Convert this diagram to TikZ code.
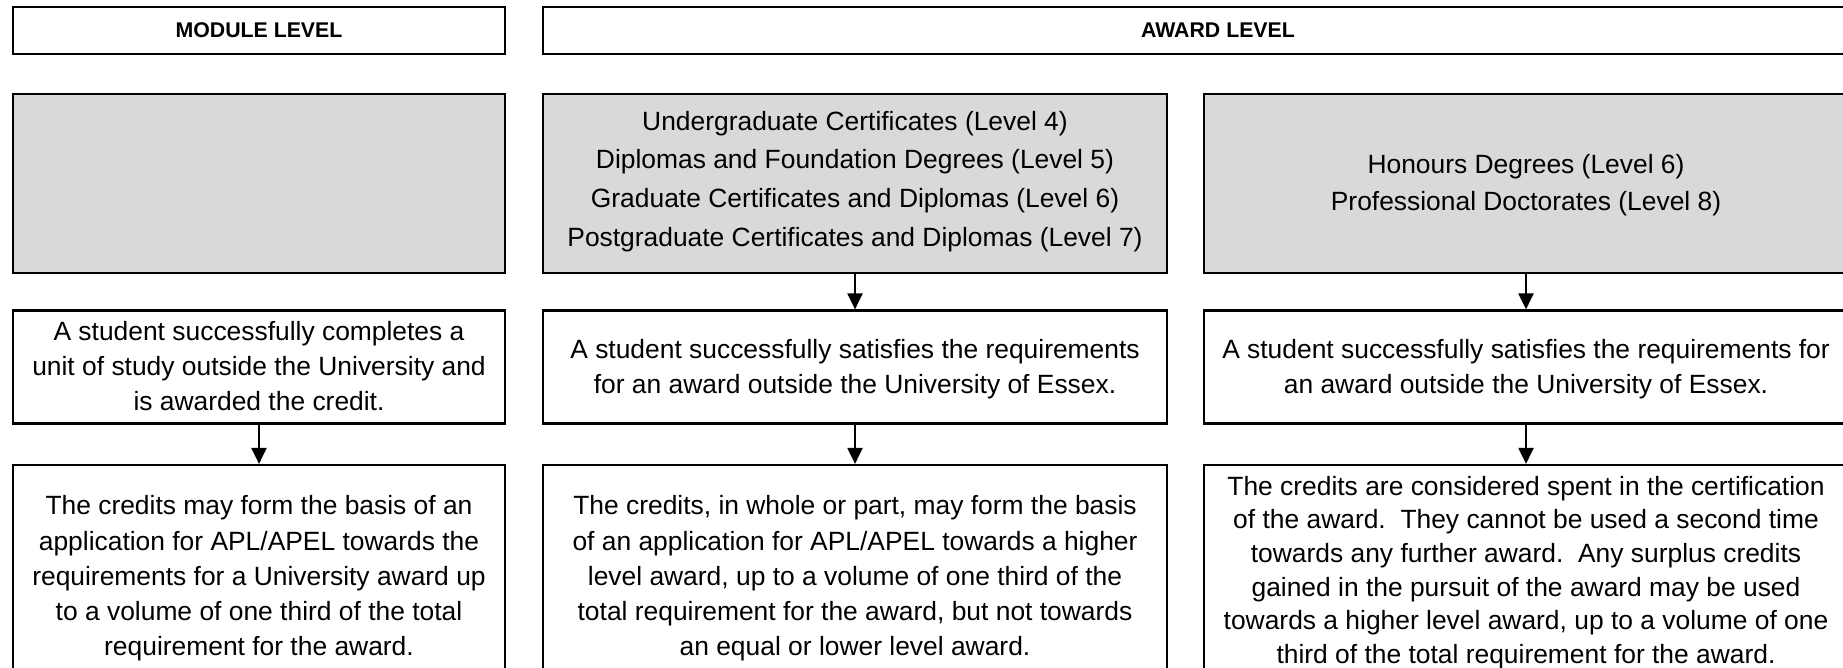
\documentclass[tikz,border=0pt]{standalone}
\usepackage{fontspec}
\setmainfont{Liberation Sans}
\usetikzlibrary{arrows.meta}
\definecolor{boxgray}{HTML}{D9D9D9}
\tikzset{
  box/.style={draw=black, line width=2.2pt, inner sep=0pt},
  graybox/.style={box, fill=boxgray},
  txt/.style={inner sep=0pt, align=center, font=\fontsize{26.4}{35.3}\selectfont},
  headbox/.style={box, align=center, font=\fontsize{21.3}{25}\selectfont\bfseries},
  arr/.style={line width=2.2pt, -{Triangle[width=15pt,length=16pt]}}
}
\begin{document}
\begin{tikzpicture}[x=1pt,y=-1pt]
\path[use as bounding box, clip] (0,0) rectangle (1843,668);
\fill[white] (0,0) rectangle (1843,668);
% headers
\node[headbox, minimum width=492pt, minimum height=47pt] (mh) at (259,30.5) {MODULE LEVEL};
\node[headbox, minimum width=1350pt, minimum height=47pt] (ah) at (1218,30.5) {AWARD LEVEL};
% gray row
\node[graybox, minimum width=492pt, minimum height=179pt] (g1) at (259,183.5) {};
\node[graybox, minimum width=624pt, minimum height=179pt] (g2) at (855,183.5) {};
\node[graybox, minimum width=644pt, minimum height=179pt] (g3) at (1526,183.5) {};
\node[txt, font=\fontsize{26.4}{38.8}\selectfont] (g2t) at ([yshift=2pt]g2.center)
  {Undergraduate Certificates (Level 4)\\Diplomas and Foundation Degrees (Level 5)\\Graduate Certificates and Diplomas (Level 6)\\Postgraduate Certificates and Diplomas (Level 7)};
\node[txt, font=\fontsize{26.4}{37}\selectfont] (g3t) at ([yshift=-2pt]g3.center)
  {Honours Degrees (Level 6)\\Professional Doctorates (Level 8)};
% middle row
\node[box, minimum width=492pt, minimum height=113pt] (m1) at (259,367) {};
\node[box, minimum width=624pt, minimum height=113pt] (m2) at (855,367) {};
\node[box, minimum width=644pt, minimum height=113pt] (m3) at (1526,367) {};
\node[txt] (m1t) at ([yshift=1pt]m1.center)
  {A student successfully completes a\\unit of study outside the University and\\is awarded the credit.};
\node[txt] (m2t) at ([yshift=-2pt]m2.center)
  {A student successfully satisfies the requirements\\for an award outside the University of Essex.};
\node[txt] (m3t) at ([yshift=-2pt]m3.center)
  {A student successfully satisfies the requirements for\\an award outside the University of Essex.};
% bottom row
\node[box, minimum width=492pt, minimum height=225pt] (b1) at (259,577.5) {};
\node[box, minimum width=624pt, minimum height=225pt] (b2) at (855,577.5) {};
\node[box, minimum width=644pt, minimum height=225pt] (b3) at (1526,577.5) {};
\node[txt] (b1t) at ([yshift=-1pt]b1.center)
  {The credits may form the basis of an\\application for APL/APEL towards the\\requirements for a University award up\\to a volume of one third of the total\\requirement for the award.};
\node[txt] (b2t) at ([yshift=-1pt]b2.center)
  {The credits, in whole or part, may form the basis\\of an application for APL/APEL towards a higher\\level award, up to a volume of one third of the\\total requirement for the award, but not towards\\an equal or lower level award.};
\node[txt, font=\fontsize{26.4}{33.6}\selectfont] (b3t) at ([yshift=5pt]b3.center)
  {The credits are considered spent in the certification\\of the award.\ \ They cannot be used a second time\\towards any further award.\ \ Any surplus credits\\gained in the pursuit of the award may be used\\towards a higher level award, up to a volume of one\\third of the total requirement for the award.};
% arrows
\draw[arr] (m1.south) -- (b1.north);
\draw[arr] (g2.south) -- (m2.north);
\draw[arr] (m2.south) -- (b2.north);
\draw[arr] (g3.south) -- (m3.north);
\draw[arr] (m3.south) -- (b3.north);
\end{tikzpicture}
\end{document}
